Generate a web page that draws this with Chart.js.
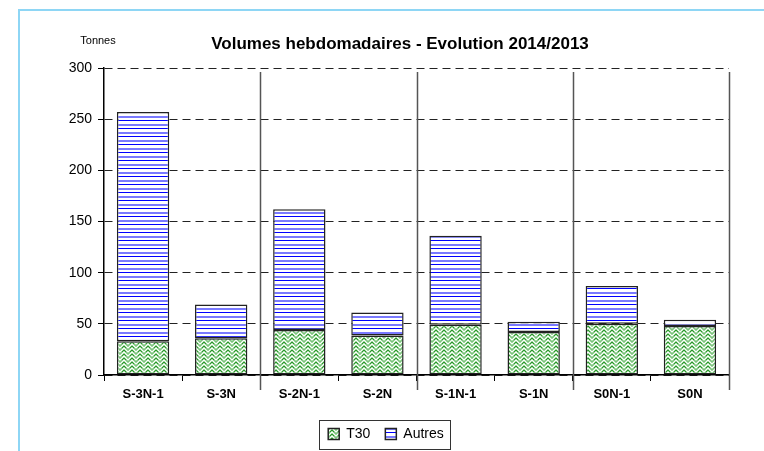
<!DOCTYPE html>
<html>
<head>
<meta charset="utf-8">
<script src="https://cdn.jsdelivr.net/npm/chart.js@4.4.1/dist/chart.umd.min.js"></script>
<style>
  html, body { margin: 0; padding: 0; background: #fff; }
  #wrap { width: 764px; height: 451px; }
</style>
</head>
<body>
<div id="wrap"><canvas id="volumes-chart" width="764" height="451"></canvas></div>
<script>
// data
const categories = ['S-3N-1', 'S-3N', 'S-2N-1', 'S-2N', 'S-1N-1', 'S-1N', 'S0N-1', 'S0N'];
const t30 = [33, 36, 44, 38.5, 49, 42, 50, 48];
const autres = [224, 33, 118, 22.5, 87, 10, 37, 6];
const yTicks = [0, 50, 100, 150, 200, 250, 300];

(function(){

    const FONT = 'Arial, "Liberation Sans", sans-serif';
    Chart.defaults.font.family = FONT;
    Chart.defaults.color = '#000';

    // green weave pattern for T30
    function greenPattern(){
        const map = [
            '12100121',
            '21011012',
            '10133101',
            '01311310',
            '12100121',
            '21011012',
            '10133101',
            '01311310'
        ];
        const c = document.createElement('canvas');
        c.width = 8; c.height = 8;
        const g = c.getContext('2d');
        const cols = {'0': '#ffffff', '1': '#a6d9a6', '2': '#7cc27c', '3': '#2a962a'};
        for(let y = 0; y < 8; y++){
            for(let x = 0; x < 8; x++){
                g.fillStyle = cols[map[y][x]];
                g.fillRect(x, y, 1, 1);
            }
        }
        return g.createPattern(c, 'repeat');
    }

    // blue horizontal stripes for Autres
    function bluePattern(){
        const c = document.createElement('canvas');
        c.width = 8; c.height = 8;
        const g = c.getContext('2d');
        g.fillStyle = '#ffffff';
        g.fillRect(0, 0, 8, 8);
        g.fillStyle = '#0000ff';
        g.fillRect(0, 0, 8, 1);
        g.fillStyle = '#7a7aff';
        g.fillRect(0, 4, 8, 2);
        return g.createPattern(c, 'repeat');
    }

    const decor = {
        id: 'decor',
        beforeDraw(chart){
            const ctx = chart.ctx;
            ctx.save();
            ctx.fillStyle = '#fff';
            ctx.fillRect(0, 0, chart.width, chart.height);
            // light blue frame
            ctx.strokeStyle = '#8ed6f5';
            ctx.lineWidth = 2;
            ctx.strokeRect(19, 10, chart.width + 20, chart.height + 20);
            ctx.restore();
        },
        afterDraw(chart){
            const ctx = chart.ctx;
            const area = chart.chartArea;
            const x = chart.scales.x;
            ctx.save();
            // titles
            ctx.fillStyle = '#000';
            ctx.textAlign = 'center';
            ctx.textBaseline = 'middle';
            ctx.font = 'bold 17px ' + FONT;
            ctx.fillText('Volumes hebdomadaires - Evolution 2014/2013', 400, 44);
            ctx.font = '11px ' + FONT;
            ctx.fillText('Tonnes', 98, 41);

            // separators every two categories
            ctx.strokeStyle = '#555';
            ctx.lineWidth = 1.5;
            const step = x.getPixelForValue(1) - x.getPixelForValue(0);
            for(let i = 2; i <= categories.length; i += 2){
                const px = Math.round(x.getPixelForValue(i - 1) + step / 2) + 0.5;
                ctx.beginPath();
                ctx.moveTo(px, area.top + 4);
                ctx.lineTo(px, area.bottom + 15);
                ctx.stroke();
            }

            // legend frame
            const boxes = chart.legend.legendHitBoxes;
            if(boxes && boxes.length){
                const first = boxes[0];
                const last = boxes[boxes.length - 1];
                const l = first.left - 9;
                const r = last.left + last.width + 6;
                const t = first.top - 7;
                const b = first.top + first.height + 8;
                ctx.strokeStyle = '#333';
                ctx.lineWidth = 1;
                ctx.strokeRect(Math.round(l) + 0.5, Math.round(t) + 0.5, Math.round(r - l), Math.round(b - t));
            }
            ctx.restore();
        }
    };

    const ctx = document.getElementById('volumes-chart');

    new Chart(ctx, {
        type: 'bar',
        data: {
            labels: categories,
            datasets: [{
                label: 'T30',
                data: t30,
                backgroundColor: greenPattern(),
                borderColor: '#222',
                borderWidth: 1.5,
                borderSkipped: false
            }, {
                label: 'Autres',
                data: autres,
                backgroundColor: bluePattern(),
                borderColor: '#222',
                borderWidth: 1.5,
                borderSkipped: false
            }]
        },
        options: {
            responsive: false,
            animation: false,
            devicePixelRatio: 1,
            barPercentage: 0.67,
            categoryPercentage: 1,
            layout: {
                padding: {left: 43, right: 35, top: 68, bottom: 0}
            },
            scales: {
                x: {
                    stacked: true,
                    offset: true,
                    afterFit(scale){ scale.height = 37; },
                    grid: {
                        offset: true,
                        drawOnChartArea: false,
                        drawTicks: true,
                        tickLength: 6,
                        color: '#000'
                    },
                    border: {color: '#000', width: 1.5},
                    ticks: {
                        font: {size: 13, weight: 'bold'},
                        padding: 6,
                        maxRotation: 0
                    }
                },
                y: {
                    stacked: true,
                    min: 0,
                    max: 300,
                    afterFit(scale){ scale.width = 61; },
                    afterBuildTicks(scale){
                        scale.ticks = yTicks.map(v => ({value: v}));
                    },
                    grid: {
                        color: '#222',
                        lineWidth: 1,
                        tickLength: 6,
                        tickColor: '#000',
                        tickBorderDash: [],
                        drawTicks: true
                    },
                    border: {color: '#000', width: 1.5, dash: [8, 5]},
                    ticks: {
                        font: {size: 14},
                        padding: 6
                    }
                }
            },
            plugins: {
                title: {display: false},
                tooltip: {enabled: false},
                legend: {
                    position: 'bottom',
                    labels: {
                        font: {size: 14},
                        boxWidth: 11,
                        boxHeight: 11,
                        padding: 15,
                        color: '#000'
                    }
                }
            }
        },
        plugins: [decor]
    });
})();
</script>
</body>
</html>
